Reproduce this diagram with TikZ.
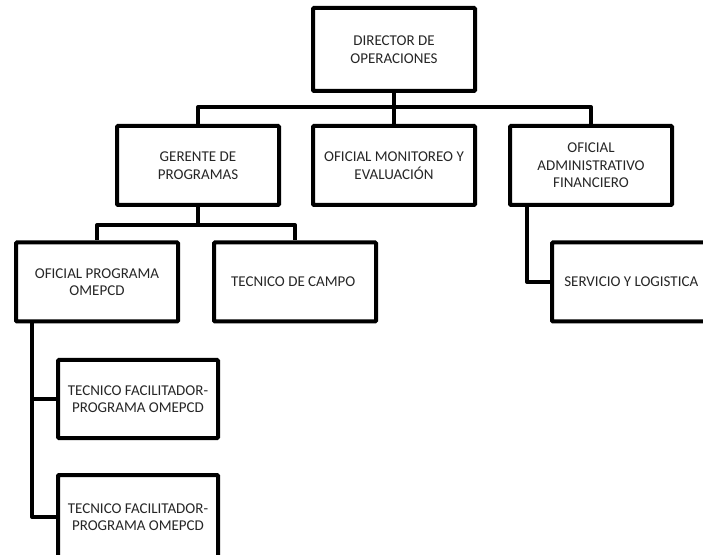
\documentclass[tikz,border=0pt]{standalone}
\usepackage{fontspec}
\setmainfont{Carlito}
\usetikzlibrary{positioning}

\begin{document}
\begin{tikzpicture}[x=1pt, y=1pt,
    puesto/.style={draw, line width=4pt, rounded corners=1pt,
      minimum width=162pt, minimum height=79pt, inner sep=1pt,
      align=center, text=black!85, font=\fontsize{15}{17.5}\selectfont},
    enlace/.style={line width=4pt, line join=round}]

    \useasboundingbox (0,0) rectangle (703,554);
    \clip (0,0) rectangle (703,554);

    % top and second row
    \node [puesto, minimum height=83pt] (dir) at (394,504.5)
      { DIRECTOR DE\\OPERACIONES };
    \node [puesto, below=31pt of dir] (mon)
      { OFICIAL MONITOREO Y\\EVALUACIÓN };
    \node [puesto, left=30pt of mon] (ger)
      { GERENTE DE\\PROGRAMAS };
    \node [puesto, right=31pt of mon] (adm)
      { OFICIAL\\ADMINISTRATIVO\\FINANCIERO };

    % third row
    \node [puesto] (ofi) at (97,272)
      { OFICIAL PROGRAMA\\OMEPCD };
    \node [puesto, right=32pt of ofi] (tec)
      { TECNICO DE CAMPO };
    \node [puesto] (serv) at (633,272)
      { SERVICIO Y LOGISTICA };

    % under the programme officer
    \node [puesto, minimum width=160pt, minimum height=78pt] (fac1) at (138,155)
      { TECNICO FACILITADOR-\\PROGRAMA OMEPCD };
    \node [puesto, minimum width=160pt, minimum height=84pt, below=33pt of fac1] (fac2)
      { TECNICO FACILITADOR-\\PROGRAMA OMEPCD };

    \draw [enlace] (dir) -- (mon);
    \draw [enlace] (dir.south) -- ++(0,-14) -| (ger.north);
    \draw [enlace] (dir.south) -- ++(0,-14) -| (adm.north);
    \draw [enlace] (ger.south) -- ++(0,-18) -| (ofi.north);
    \draw [enlace] (ger.south) -- ++(0,-18) -| (tec.north);
    \draw [enlace] ([xshift=19pt]adm.south west) |- (serv.west);
    \draw [enlace] ([xshift=18pt]ofi.south west) |- (fac1.west);
    \draw [enlace] ([xshift=18pt]ofi.south west) |- (fac2.west);

\end{tikzpicture}
\end{document}
